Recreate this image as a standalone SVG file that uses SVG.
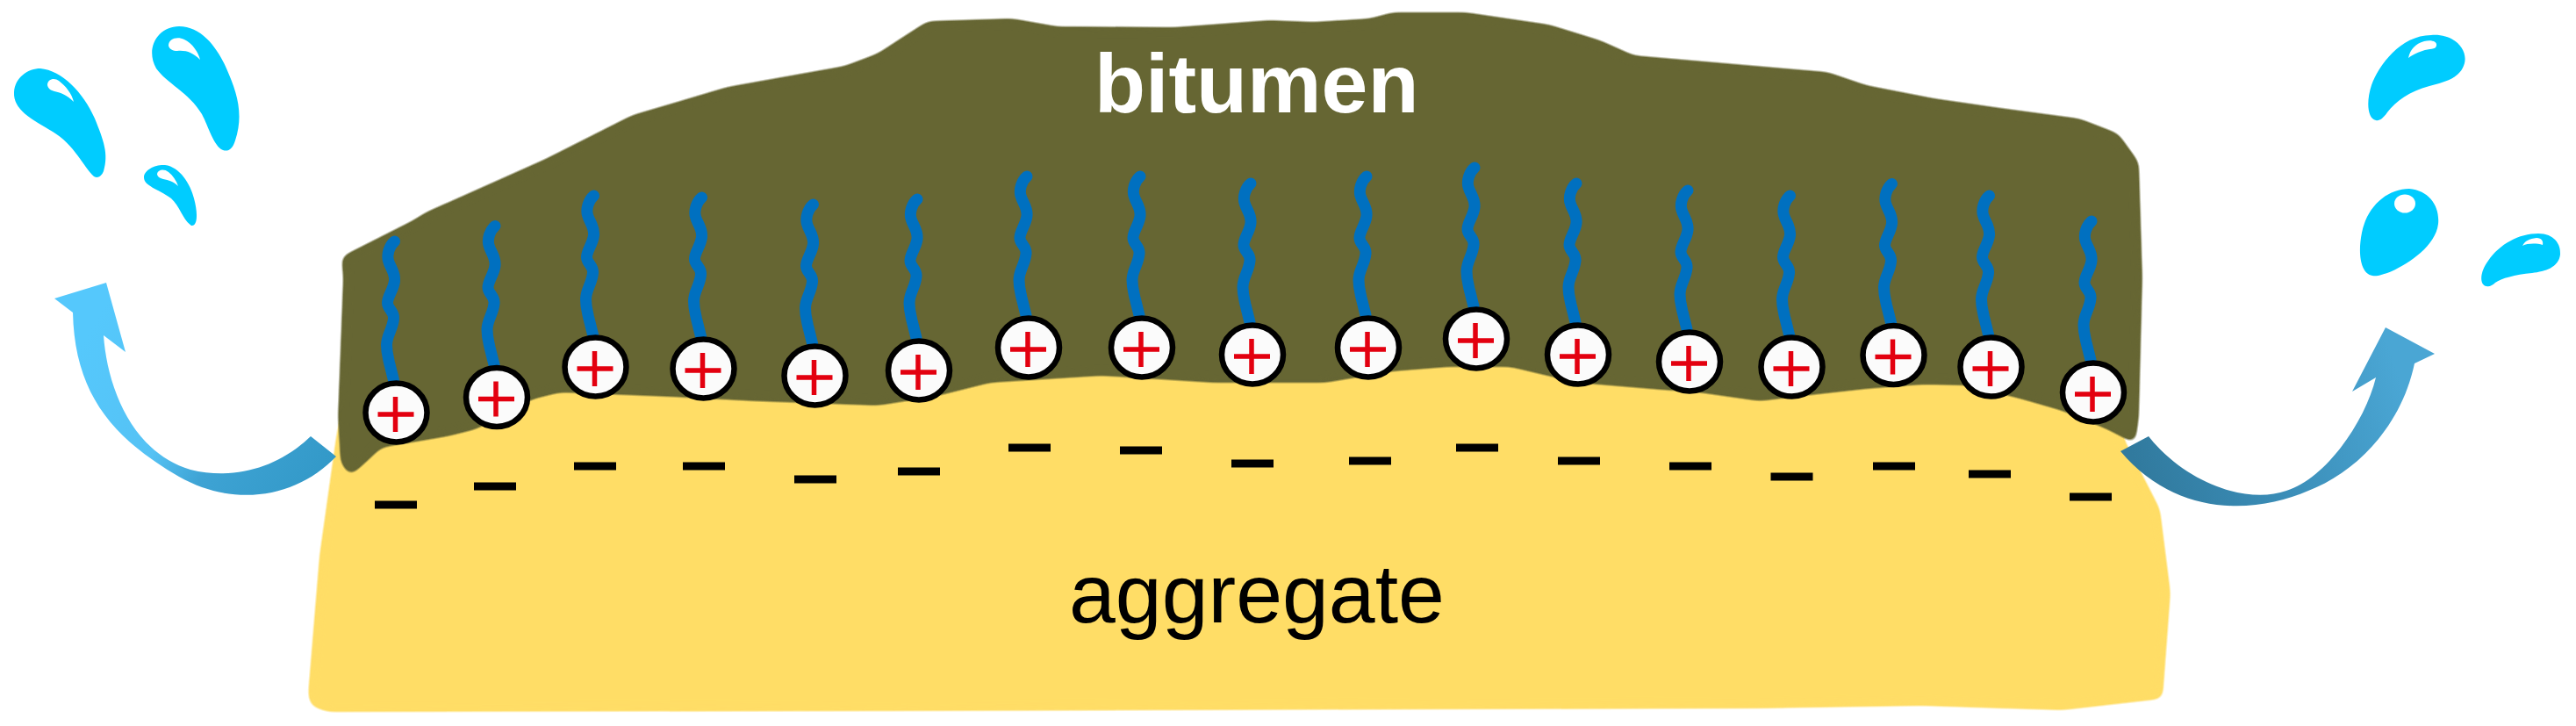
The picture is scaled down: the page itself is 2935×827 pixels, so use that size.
<svg xmlns="http://www.w3.org/2000/svg" xmlns:xlink="http://www.w3.org/1999/xlink" width="2935" height="827" viewBox="0 0 2935 827">
<style>
.drop{fill:#00ccff}
.shine{fill:#fff}
.tail{fill:none;stroke:#0070c0;stroke-width:13;stroke-linecap:round;stroke-linejoin:round}
.ion{fill:#fbfbfb;stroke:#000;stroke-width:6.5}
.plus{fill:none;stroke:#e3000f;stroke-width:5.5}
.minus{fill:#000}
text{font-family:"Liberation Sans",Arial,sans-serif;font-size:95px}
</style>
<defs>
<filter id="soft" filterUnits="userSpaceOnUse" x="0" y="0" width="2935" height="827" color-interpolation-filters="sRGB">
<feGaussianBlur stdDeviation="6"/>
<feComponentTransfer><feFuncA type="linear" slope="6" intercept="-2.500"/></feComponentTransfer>
</filter>
<linearGradient id="gl" gradientUnits="userSpaceOnUse" x1="100" y1="380" x2="370" y2="540"><stop offset="0" stop-color="#55c8fc"/><stop offset=".42" stop-color="#55c2f4"/><stop offset=".62" stop-color="#3ea3d4"/><stop offset="1" stop-color="#3399c8"/></linearGradient>
<linearGradient id="gr" gradientUnits="userSpaceOnUse" x1="2430" y1="520" x2="2730" y2="420"><stop offset="0" stop-color="#317a9e"/><stop offset=".45" stop-color="#3a8cb6"/><stop offset="1" stop-color="#4aa6d4"/></linearGradient>
<g id="charge">
<path class="tail" d="M-2-195C-8-190-11-180-9-173C-7-165-1-160-2-150C-3-140-10-133-10-125C-10-118-2-115-3-107C-4-95-11-88-11-77C-11-68-9-62-8-57L-3-37"/>
<ellipse class="ion" rx="35" ry="33.500"/>
<path class="plus" d="M-21 2H20M-1-18V22"/>
</g>
<rect id="neg" class="minus" x="-24" y="-4.500" width="48" height="9"/>
</defs>
<rect width="2935" height="827" fill="#fff"/>
<g id="aggregate">
<path fill="#ffdd66" filter="url(#soft)" d="M383 498L364 633L351 791L354 804L373 811L1000 810L2000 807L2190 804L2350 809L2464 796L2473 675L2461 580L2420 500L2400 300L420 300Z"/>
<text x="1218" y="709" fill="#000">aggregate</text>
</g>
<g id="bitumen">
<path fill="#666633" stroke="#666633" stroke-width="2" stroke-linejoin="round" filter="url(#soft)" d="M390 293L469 253L485 243L622 182L721 132L829 100L963 76L1000 62L1026 45L1057 25L1153 22L1204 31L1338 32L1446 24L1497 26L1561 22L1587 15L1670 15L1765 29L1823 47L1861 64L2000 76L2082 83L2126 98L2203 113L2279 124L2369 136L2413 153L2436 185L2440 316L2436 475L2432 504L2401 488L2350 467L2305 454L2241 438L2190 437L2126 442L2063 449L2005 456L1935 446L1893 443L1797 435L1721 417L1650 417L1587 422L1510 435L1383 435L1255 427L1128 435L1064 451L1000 461L861 456L765 451L638 446L606 454L542 488L510 496L434 509L415 527L399 541L389 527L386 475L392 316Z"/>
<text x="1247" y="128" fill="#fff" font-weight="700">bitumen</text>
</g>
<g id="charges">
<use xlink:href="#charge" href="#charge" x="451.500" y="470"/>
<use xlink:href="#charge" href="#charge" x="566" y="452.500"/>
<use xlink:href="#charge" href="#charge" x="678.500" y="418"/>
<use xlink:href="#charge" href="#charge" x="801.500" y="420"/>
<use xlink:href="#charge" href="#charge" x="928.500" y="428"/>
<use xlink:href="#charge" href="#charge" x="1047" y="422"/>
<use xlink:href="#charge" href="#charge" x="1172" y="396"/>
<use xlink:href="#charge" href="#charge" x="1301" y="396"/>
<use xlink:href="#charge" href="#charge" x="1427" y="404"/>
<use xlink:href="#charge" href="#charge" x="1559" y="396"/>
<use xlink:href="#charge" href="#charge" x="1682" y="386"/>
<use xlink:href="#charge" href="#charge" x="1798" y="404"/>
<use xlink:href="#charge" href="#charge" x="1925" y="412"/>
<use xlink:href="#charge" href="#charge" x="2041.500" y="418"/>
<use xlink:href="#charge" href="#charge" x="2157.500" y="404.500"/>
<use xlink:href="#charge" href="#charge" x="2268.500" y="418"/>
<use xlink:href="#charge" href="#charge" x="2385" y="447"/>
</g>
<g id="minus-charges">
<use xlink:href="#neg" href="#neg" x="451" y="575"/>
<use xlink:href="#neg" href="#neg" x="564" y="554"/>
<use xlink:href="#neg" href="#neg" x="678" y="531"/>
<use xlink:href="#neg" href="#neg" x="802" y="531"/>
<use xlink:href="#neg" href="#neg" x="929" y="546"/>
<use xlink:href="#neg" href="#neg" x="1047" y="537"/>
<use xlink:href="#neg" href="#neg" x="1173" y="510"/>
<use xlink:href="#neg" href="#neg" x="1300" y="513"/>
<use xlink:href="#neg" href="#neg" x="1427" y="528"/>
<use xlink:href="#neg" href="#neg" x="1561" y="525"/>
<use xlink:href="#neg" href="#neg" x="1683" y="510"/>
<use xlink:href="#neg" href="#neg" x="1799" y="525"/>
<use xlink:href="#neg" href="#neg" x="1926" y="531"/>
<use xlink:href="#neg" href="#neg" x="2041.500" y="543"/>
<use xlink:href="#neg" href="#neg" x="2158" y="531"/>
<use xlink:href="#neg" href="#neg" x="2267" y="540"/>
<use xlink:href="#neg" href="#neg" x="2382" y="566"/>
</g>
<g id="connectors">
<path fill="url(#gl)" d="M121 322L143 401L118 382C122 440 150 515 217 535C270 548 320 530 354 497L383 520C340 565 270 580 204 543C130 500 85 450 83 356L62 340Z"/>
<path fill="url(#gr)" d="M2718 373L2774 403L2751 414C2735 490 2680 540 2630 559C2570 585 2480 590 2416 514L2448 497C2490 550 2560 575 2605 559C2650 545 2695 480 2707 430L2680 446Z"/>
</g>
<g id="drops-left">
<path class="drop" d="M107 201C95 190 85 165 60 150C35 135 15 125 16 105C17 88 32 78 46 78C70 80 95 105 108 135C118 160 124 175 118 195C115 202 111 203 107 201Z"/>
<path class="shine" d="M54 97C54 90 62 88 67 92C75 98 82 107 84 116C76 108 70 106 62 104C58 103 55 101 54 97Z"/>
<path class="drop" d="M254 171C243 166 238 145 230 130C215 105 190 95 178 78C165 55 180 30 204 30C230 30 248 55 258 78C270 105 278 130 268 160C265 170 260 173 254 171Z"/>
<path class="shine" d="M192 52C192 44 202 41 210 45C220 50 226 60 228 68C220 60 212 57 202 58C197 58 193 56 192 52Z"/>
<path class="drop" d="M218 257C208 250 205 235 195 226C180 215 164 212 164 202C164 193 178 187 188 188C205 190 217 210 221 226C225 240 226 258 218 257Z"/>
<path class="shine" d="M179 198C180 193 187 192 192 196C197 200 201 206 203 212C198 207 192 205 186 204C182 203 179 201 179 198Z"/>
</g>
<g id="drops-right">
<path class="drop" d="M2707 137C2697 135 2696 115 2702 97C2710 75 2735 40 2770 40C2795 38 2812 55 2808 72C2803 90 2785 93 2768 98C2745 104 2730 115 2720 128C2715 135 2711 138 2707 137Z"/>
<path class="shine" d="M2744 66C2746 56 2752 50 2762 47C2770 45 2777 47 2776 52C2775 57 2768 55 2760 58C2753 60 2748 63 2744 66Z"/>
<path class="drop" d="M2703 314C2690 312 2686 290 2691 265C2697 235 2720 215 2745 215C2768 217 2780 235 2778 255C2775 280 2745 300 2725 309C2715 313 2708 315 2703 314Z"/>
<ellipse class="shine" cx="2740" cy="232" rx="12" ry="10.500"/>
<path class="drop" d="M2833 326C2825 325 2825 310 2835 297C2848 278 2870 266 2892 266C2910 266 2918 278 2917 290C2915 305 2900 309 2885 311C2865 313 2850 317 2843 322C2840 325 2836 327 2833 326Z"/>
<path class="shine" d="M2874 280C2877 274 2882 272 2890 271C2896 271 2898 275 2897 279C2890 277 2880 277 2874 280Z"/>
</g>
</svg>
